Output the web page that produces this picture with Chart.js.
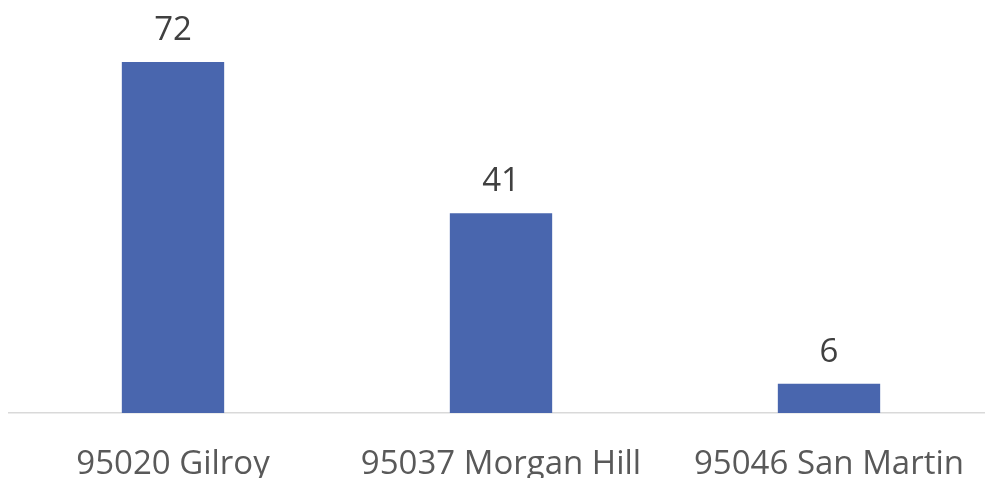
<!DOCTYPE html>
<html>
<head>
<meta charset="utf-8">
<script src="https://cdn.jsdelivr.net/npm/chart.js@4"></script>
<style>
  html, body { margin: 0; padding: 0; background: #fff; overflow: hidden; }
  #wrap { position: absolute; left: 0; top: 0; width: 1000px; height: 478px; }
</style>
</head>
<body>
<div id="wrap"><canvas id="chart"></canvas></div>
<script>
const categories = ['95020 Gilroy', '95037 Morgan Hill', '95046 San Martin'];
const counts = [72, 41, 6];

// draws the value above each bar
const valueLabels = {
    id: 'valueLabels',
    afterDatasetsDraw(chart) {
        const ctx = chart.ctx;
        ctx.save();
        ctx.font = '33px "Open Sans"';
        ctx.fillStyle = '#404040';
        ctx.textAlign = 'center';
        ctx.textBaseline = 'alphabetic';
        chart.getDatasetMeta(0).data.forEach((bar, i) => {
            ctx.fillText(String(counts[i]), bar.x, bar.y - 22);
        });
        ctx.restore();
    }
};

const ctx = document.getElementById('chart').getContext('2d');
new Chart(ctx, {
    type: 'bar',
    data: {
        labels: categories,
        datasets: [{
            data: counts,
            backgroundColor: '#4966AE',
            categoryPercentage: 1,
            barPercentage: 0.312
        }]
    },
    options: {
        responsive: true,
        maintainAspectRatio: false,
        animation: false,
        layout: { padding: { left: 9, right: 7, top: 23, bottom: 0 } },
        plugins: { legend: { display: false }, tooltip: { enabled: false } },
        scales: {
            x: {
                grid: { display: false, drawTicks: false },
                border: { display: true, color: '#D9D9D9', width: 1.5 },
                ticks: {
                    color: '#595959',
                    font: { family: 'Open Sans', size: 33 },
                    padding: 32,
                    maxRotation: 0,
                    autoSkip: false
                },
                afterFit(scale) { scale.height = 65; }
            },
            y: {
                display: false,
                min: 0,
                max: 80
            }
        }
    },
    plugins: [valueLabels]
});
</script>
</body>
</html>
